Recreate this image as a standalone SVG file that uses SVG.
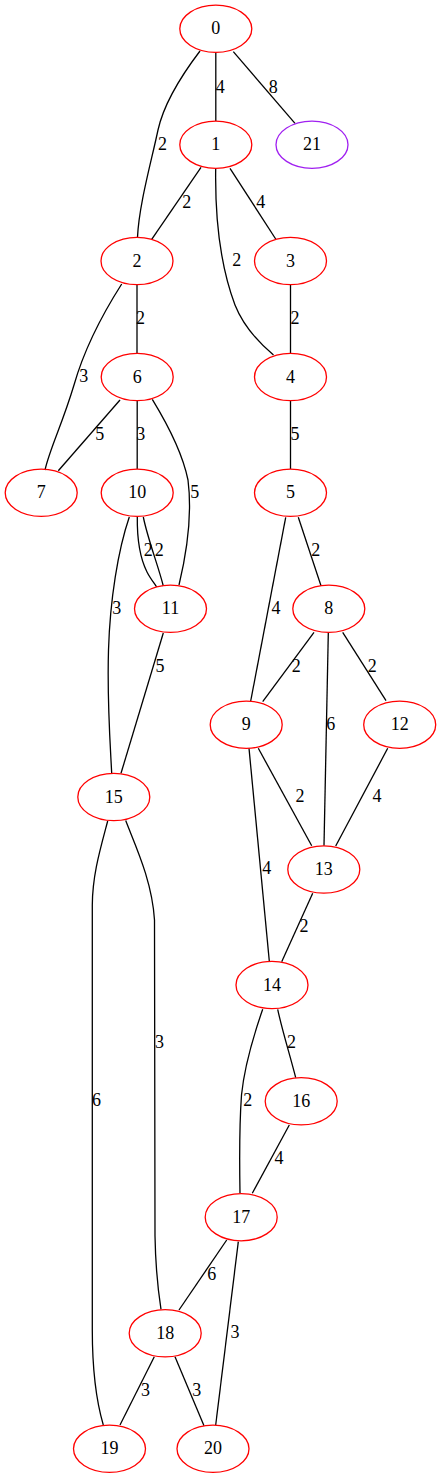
<svg xmlns="http://www.w3.org/2000/svg" width="441" height="1479" viewBox="0 0 441 1479">
<style>
.n ellipse{fill:none;stroke:#ff0000;stroke-width:1.3}
.n text,.lbl text{font-family:"Liberation Serif","Times New Roman",serif;font-size:18px;text-anchor:middle;fill:#000}
#edges path{fill:none;stroke:#000;stroke-width:1.3}
#n21 ellipse{stroke:#a020f0}
</style>
<rect width="441" height="1479" fill="#fff"/>
<g id="edges">
<path d="M215.8,52.6 L215.8,120.9"/>
<path d="M233.3,51.7 L295,123.3"/>
<path d="M200,51 C181,76 164,103 158,130 C151,163 139,205 137.5,237.3"/>
<path d="M201,167.3 L151.7,239.3"/>
<path d="M230,168.3 L275.7,239"/>
<path d="M215.7,168.5 C215,215 220,265 235,305 C243,325 258,342 273.5,355"/>
<path d="M137,284.8 L137,353.2"/>
<path d="M290.5,284.8 L290.5,353.2"/>
<path d="M121.7,284 C100,318 84,350 74,385 C62,425 50,448 45,470"/>
<path d="M120,400 L58.3,470.7"/>
<path d="M137.2,400.8 L137.2,469"/>
<path d="M152.3,399.3 C168,425 183,455 188,480 C193,520 185,560 179,585"/>
<path d="M137.3,517 C137,540 141,560 147,572 C150,578 154,583 156.7,587"/>
<path d="M143.3,517 C148,540 158,565 163.3,586"/>
<path d="M129.3,517 C118,550 110,600 108.5,650 C107,700 110,740 111.7,773.3"/>
<path d="M163.3,633 L121,773.3"/>
<path d="M290.5,400.8 L290.5,469"/>
<path d="M298.3,517.3 L321,585.7"/>
<path d="M285.7,517.3 L250.7,701"/>
<path d="M314,632.3 L262.7,701.7"/>
<path d="M342.7,632.3 L386,700.7"/>
<path d="M328.3,633 L324,845.7"/>
<path d="M258.3,748.3 L311.7,845.7"/>
<path d="M387.7,748.3 L335.7,846"/>
<path d="M249,748.3 L269.3,961"/>
<path d="M312.7,893.3 L281.7,961.7"/>
<path d="M107.7,821 C100,850 92.5,875 92.3,905 L92.3,1330 C92.3,1370 96,1400 103.3,1425"/>
<path d="M125.7,820.5 C135,845 152,880 154.5,920 L155,1236 C155.5,1265 158,1290 161,1309.3"/>
<path d="M277.7,1009.3 C282,1030 290,1055 295.7,1077.7"/>
<path d="M262.7,1009.3 C252,1040 244,1070 241.5,1095 C239,1130 239.5,1165 240,1193.3"/>
<path d="M289.3,1125 L252.3,1193.3"/>
<path d="M226.7,1240 L179,1310"/>
<path d="M238.3,1241.7 L215.7,1425"/>
<path d="M154.3,1356.7 L120,1425"/>
<path d="M175,1356.7 L204,1425.7"/>
</g>
<g class="lbl">
<text x="220.3" y="92.5">4</text>
<text x="273.2" y="92.5">8</text>
<text x="162.5" y="150">2</text>
<text x="186.7" y="207.5">2</text>
<text x="260.8" y="207.5">4</text>
<text x="236.8" y="266">2</text>
<text x="140.5" y="324">2</text>
<text x="295" y="324">2</text>
<text x="83.8" y="382">3</text>
<text x="99.8" y="440">5</text>
<text x="140.8" y="440">3</text>
<text x="295" y="440">5</text>
<text x="194.8" y="498">5</text>
<text x="148.2" y="556">2</text>
<text x="159.2" y="556">2</text>
<text x="315.8" y="556">2</text>
<text x="116.8" y="614">3</text>
<text x="276" y="614">4</text>
<text x="160" y="671.5">5</text>
<text x="296.3" y="672">2</text>
<text x="372.2" y="672">2</text>
<text x="330.8" y="730">6</text>
<text x="300" y="802">2</text>
<text x="377" y="802">4</text>
<text x="266.8" y="874">4</text>
<text x="304" y="932">2</text>
<text x="159.5" y="1048">3</text>
<text x="291.5" y="1048">2</text>
<text x="96.5" y="1106">6</text>
<text x="247.8" y="1106">2</text>
<text x="279" y="1164">4</text>
<text x="211.8" y="1280">6</text>
<text x="235" y="1338">3</text>
<text x="145.5" y="1396">3</text>
<text x="196.8" y="1396">3</text>
</g>
<g id="n0" class="n"><ellipse cx="215.8" cy="28.8" rx="36" ry="23.6"/><text x="215.8" y="34.3">0</text></g>
<g id="n1" class="n"><ellipse cx="215.8" cy="144.7" rx="36" ry="23.6"/><text x="215.8" y="150.2">1</text></g>
<g id="n21" class="n"><ellipse cx="312" cy="144.7" rx="36" ry="23.6"/><text x="312" y="150.2">21</text></g>
<g id="n2" class="n"><ellipse cx="137" cy="261" rx="36" ry="23.6"/><text x="137" y="266.5">2</text></g>
<g id="n3" class="n"><ellipse cx="290.5" cy="261" rx="36" ry="23.6"/><text x="290.5" y="266.5">3</text></g>
<g id="n6" class="n"><ellipse cx="137.2" cy="377" rx="36" ry="23.6"/><text x="137.2" y="382.5">6</text></g>
<g id="n4" class="n"><ellipse cx="290.5" cy="377" rx="36" ry="23.6"/><text x="290.5" y="382.5">4</text></g>
<g id="n7" class="n"><ellipse cx="41.2" cy="492.8" rx="36" ry="23.6"/><text x="41.2" y="498.3">7</text></g>
<g id="n10" class="n"><ellipse cx="137.2" cy="492.8" rx="36" ry="23.6"/><text x="137.2" y="498.3">10</text></g>
<g id="n5" class="n"><ellipse cx="290.5" cy="492.8" rx="36" ry="23.6"/><text x="290.5" y="498.3">5</text></g>
<g id="n11" class="n"><ellipse cx="170.5" cy="608.8" rx="36" ry="23.6"/><text x="170.5" y="614.3">11</text></g>
<g id="n8" class="n"><ellipse cx="328.8" cy="608.8" rx="36" ry="23.6"/><text x="328.8" y="614.3">8</text></g>
<g id="n9" class="n"><ellipse cx="246.2" cy="724.7" rx="36" ry="23.6"/><text x="246.2" y="730.2">9</text></g>
<g id="n12" class="n"><ellipse cx="399.7" cy="724.7" rx="36" ry="23.6"/><text x="399.7" y="730.2">12</text></g>
<g id="n15" class="n"><ellipse cx="113.8" cy="797" rx="36" ry="23.6"/><text x="113.8" y="802.5">15</text></g>
<g id="n13" class="n"><ellipse cx="323.8" cy="869.5" rx="36" ry="23.6"/><text x="323.8" y="875">13</text></g>
<g id="n14" class="n"><ellipse cx="272" cy="985" rx="36" ry="23.6"/><text x="272" y="990.5">14</text></g>
<g id="n16" class="n"><ellipse cx="301.2" cy="1101.3" rx="36" ry="23.6"/><text x="301.2" y="1106.8">16</text></g>
<g id="n17" class="n"><ellipse cx="241.2" cy="1217.2" rx="36" ry="23.6"/><text x="241.2" y="1222.7">17</text></g>
<g id="n18" class="n"><ellipse cx="165.2" cy="1333.3" rx="36" ry="23.6"/><text x="165.2" y="1338.8">18</text></g>
<g id="n19" class="n"><ellipse cx="109.5" cy="1448.8" rx="36" ry="23.6"/><text x="109.5" y="1454.3">19</text></g>
<g id="n20" class="n"><ellipse cx="213" cy="1448.8" rx="36" ry="23.6"/><text x="213" y="1454.3">20</text></g>
</svg>
